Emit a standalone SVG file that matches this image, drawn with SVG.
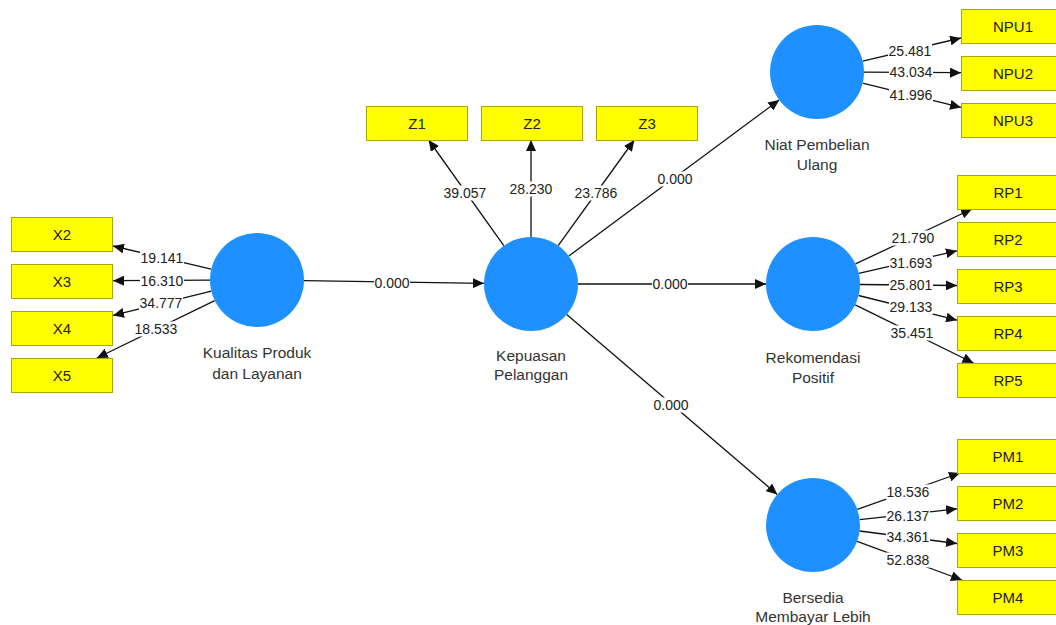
<svg xmlns="http://www.w3.org/2000/svg" width="1056" height="625" viewBox="0 0 1056 625">
<style>
.bg{fill:#ffffff}
.lv{fill:#1e90ff}
.ind{fill:#ffff00;stroke:#a8a800;stroke-width:1}
.it{font-family:"Liberation Sans",Arial,sans-serif;font-size:15px;fill:#222;text-anchor:middle}
.nl{font-family:"Liberation Sans",Arial,sans-serif;font-size:15.5px;fill:#333;text-anchor:middle}
.ln{stroke:#111;stroke-width:1.3;fill:none;marker-end:url(#ah)}
.num{font-family:"Liberation Sans",Arial,sans-serif;font-size:14px;fill:#222;text-anchor:middle}
.lb{fill:#ffffff}
</style>
<defs>
<marker id="ah" markerUnits="userSpaceOnUse" markerWidth="12" markerHeight="10" refX="11" refY="5" orient="auto">
<path d="M0,0 L11,5 L0,10 Z" fill="#111"/>
</marker>
</defs>
<rect class="bg" x="0" y="0" width="1056" height="625"/>

<g id="connectors">
<line class="ln" x1="211.3" y1="269.2" x2="113" y2="246"/>
<line class="ln" x1="210" y1="280.2" x2="113" y2="280.7"/>
<line class="ln" x1="211.4" y1="291.2" x2="113" y2="315.4"/>
<line class="ln" x1="214.7" y1="300.6" x2="96.9" y2="358"/>
<line class="ln" x1="304" y1="280.7" x2="484" y2="283.3"/>
<line class="ln" x1="503.8" y1="245.7" x2="428.6" y2="140"/>
<line class="ln" x1="531" y1="237" x2="531" y2="140"/>
<line class="ln" x1="558.2" y1="245.7" x2="634.3" y2="140"/>
<line class="ln" x1="568.8" y1="256" x2="779.2" y2="100"/>
<line class="ln" x1="578" y1="284" x2="766" y2="284"/>
<line class="ln" x1="566.7" y1="314.5" x2="777.3" y2="494.5"/>
<line class="ln" x1="862.7" y1="61.2" x2="961" y2="38"/>
<line class="ln" x1="864" y1="72.2" x2="961" y2="72.7"/>
<line class="ln" x1="862.6" y1="83.2" x2="961" y2="107.4"/>
<line class="ln" x1="855.5" y1="263.9" x2="972" y2="209"/>
<line class="ln" x1="858.8" y1="273.4" x2="957" y2="250.8"/>
<line class="ln" x1="860" y1="284.5" x2="957" y2="285.5"/>
<line class="ln" x1="858.6" y1="295.5" x2="957" y2="320.2"/>
<line class="ln" x1="855.2" y1="304.8" x2="973.5" y2="363"/>
<line class="ln" x1="857.3" y1="509.3" x2="960" y2="473"/>
<line class="ln" x1="859.7" y1="519.7" x2="957" y2="508.8"/>
<line class="ln" x1="859.6" y1="531" x2="957" y2="543.5"/>
<line class="ln" x1="857.1" y1="541.3" x2="962" y2="580"/>

<rect class="lb" x="140" y="250.5" width="44" height="15"/>
<rect class="lb" x="140" y="273" width="44" height="15"/>
<rect class="lb" x="139" y="295.5" width="44" height="15"/>
<rect class="lb" x="134" y="321.5" width="44" height="15"/>
<rect class="lb" x="374" y="275.5" width="36" height="15"/>
<rect class="lb" x="443" y="185.5" width="44" height="15"/>
<rect class="lb" x="509" y="181.5" width="44" height="15"/>
<rect class="lb" x="574" y="185.5" width="44" height="15"/>
<rect class="lb" x="657" y="171.5" width="36" height="15"/>
<rect class="lb" x="652" y="276.5" width="36" height="15"/>
<rect class="lb" x="653" y="397.5" width="36" height="15"/>
<rect class="lb" x="888" y="43.5" width="44" height="15"/>
<rect class="lb" x="889" y="64.5" width="44" height="15"/>
<rect class="lb" x="889" y="87.5" width="44" height="15"/>
<rect class="lb" x="891" y="230.5" width="44" height="15"/>
<rect class="lb" x="889" y="255.5" width="44" height="15"/>
<rect class="lb" x="889" y="277.5" width="44" height="15"/>
<rect class="lb" x="889" y="299.5" width="44" height="15"/>
<rect class="lb" x="890" y="325.5" width="44" height="15"/>
<rect class="lb" x="886" y="484.5" width="44" height="15"/>
<rect class="lb" x="886" y="508.5" width="44" height="15"/>
<rect class="lb" x="886" y="529.5" width="44" height="15"/>
<rect class="lb" x="886" y="552.5" width="44" height="15"/>

<text class="num" x="162" y="263">19.141</text>
<text class="num" x="162" y="285.5">16.310</text>
<text class="num" x="161" y="308">34.777</text>
<text class="num" x="156" y="334">18.533</text>
<text class="num" x="392" y="288">0.000</text>
<text class="num" x="465" y="198">39.057</text>
<text class="num" x="531" y="194">28.230</text>
<text class="num" x="596" y="198">23.786</text>
<text class="num" x="675" y="184">0.000</text>
<text class="num" x="670" y="289">0.000</text>
<text class="num" x="671" y="410">0.000</text>
<text class="num" x="910" y="56">25.481</text>
<text class="num" x="911" y="77">43.034</text>
<text class="num" x="911" y="100">41.996</text>
<text class="num" x="913" y="243">21.790</text>
<text class="num" x="911" y="268">31.693</text>
<text class="num" x="911" y="290">25.801</text>
<text class="num" x="911" y="312">29.133</text>
<text class="num" x="912" y="338">35.451</text>
<text class="num" x="908" y="497">18.536</text>
<text class="num" x="908" y="521">26.137</text>
<text class="num" x="908" y="542">34.361</text>
<text class="num" x="908" y="565">52.838</text>
</g>

<g id="kualitas">
<circle class="lv" cx="257" cy="280" r="47"/>
<text class="nl" x="257" y="358">Kualitas Produk</text>
<text class="nl" x="257" y="379">dan Layanan</text>
</g>
<g id="kepuasan">
<circle class="lv" cx="531" cy="284" r="47"/>
<text class="nl" x="531" y="361">Kepuasan</text>
<text class="nl" x="531" y="380">Pelanggan</text>
</g>
<g id="niat">
<circle class="lv" cx="817" cy="72" r="47"/>
<text class="nl" x="817" y="150">Niat Pembelian</text>
<text class="nl" x="817" y="170">Ulang</text>
</g>
<g id="rekomendasi">
<circle class="lv" cx="813" cy="284" r="47"/>
<text class="nl" x="813" y="363">Rekomendasi</text>
<text class="nl" x="813" y="383">Positif</text>
</g>
<g id="bersedia">
<circle class="lv" cx="813" cy="525" r="47"/>
<text class="nl" x="813" y="603">Bersedia</text>
<text class="nl" x="813" y="622">Membayar Lebih</text>
</g>

<g id="X2"><rect class="ind" x="11.5" y="217.5" width="101" height="34"/><text class="it" x="62" y="240">X2</text></g>
<g id="X3"><rect class="ind" x="11.5" y="264.5" width="101" height="34"/><text class="it" x="62" y="287">X3</text></g>
<g id="X4"><rect class="ind" x="11.5" y="311.5" width="101" height="34"/><text class="it" x="62" y="334">X4</text></g>
<g id="X5"><rect class="ind" x="11.5" y="358.5" width="101" height="34"/><text class="it" x="62" y="381">X5</text></g>

<g id="Z1"><rect class="ind" x="366.5" y="106.5" width="101" height="34"/><text class="it" x="417" y="129">Z1</text></g>
<g id="Z2"><rect class="ind" x="481.5" y="106.5" width="101" height="34"/><text class="it" x="532" y="129">Z2</text></g>
<g id="Z3"><rect class="ind" x="596.5" y="106.5" width="101" height="34"/><text class="it" x="647" y="129">Z3</text></g>

<g id="NPU1"><rect class="ind" x="961.5" y="9.5" width="101" height="34"/><text class="it" x="1013" y="32">NPU1</text></g>
<g id="NPU2"><rect class="ind" x="961.5" y="56.5" width="101" height="34"/><text class="it" x="1013" y="79">NPU2</text></g>
<g id="NPU3"><rect class="ind" x="961.5" y="103.5" width="101" height="34"/><text class="it" x="1013" y="126">NPU3</text></g>

<g id="RP1"><rect class="ind" x="957.5" y="175.5" width="101" height="34"/><text class="it" x="1008" y="198">RP1</text></g>
<g id="RP2"><rect class="ind" x="957.5" y="222.5" width="101" height="34"/><text class="it" x="1008" y="245">RP2</text></g>
<g id="RP3"><rect class="ind" x="957.5" y="269.5" width="101" height="34"/><text class="it" x="1008" y="292">RP3</text></g>
<g id="RP4"><rect class="ind" x="957.5" y="316.5" width="101" height="34"/><text class="it" x="1008" y="339">RP4</text></g>
<g id="RP5"><rect class="ind" x="957.5" y="363.5" width="101" height="34"/><text class="it" x="1008" y="386">RP5</text></g>

<g id="PM1"><rect class="ind" x="957.5" y="439.5" width="101" height="34"/><text class="it" x="1008" y="462">PM1</text></g>
<g id="PM2"><rect class="ind" x="957.5" y="486.5" width="101" height="34"/><text class="it" x="1008" y="509">PM2</text></g>
<g id="PM3"><rect class="ind" x="957.5" y="533.5" width="101" height="34"/><text class="it" x="1008" y="556">PM3</text></g>
<g id="PM4"><rect class="ind" x="957.5" y="580.5" width="101" height="34"/><text class="it" x="1008" y="603">PM4</text></g>
</svg>
